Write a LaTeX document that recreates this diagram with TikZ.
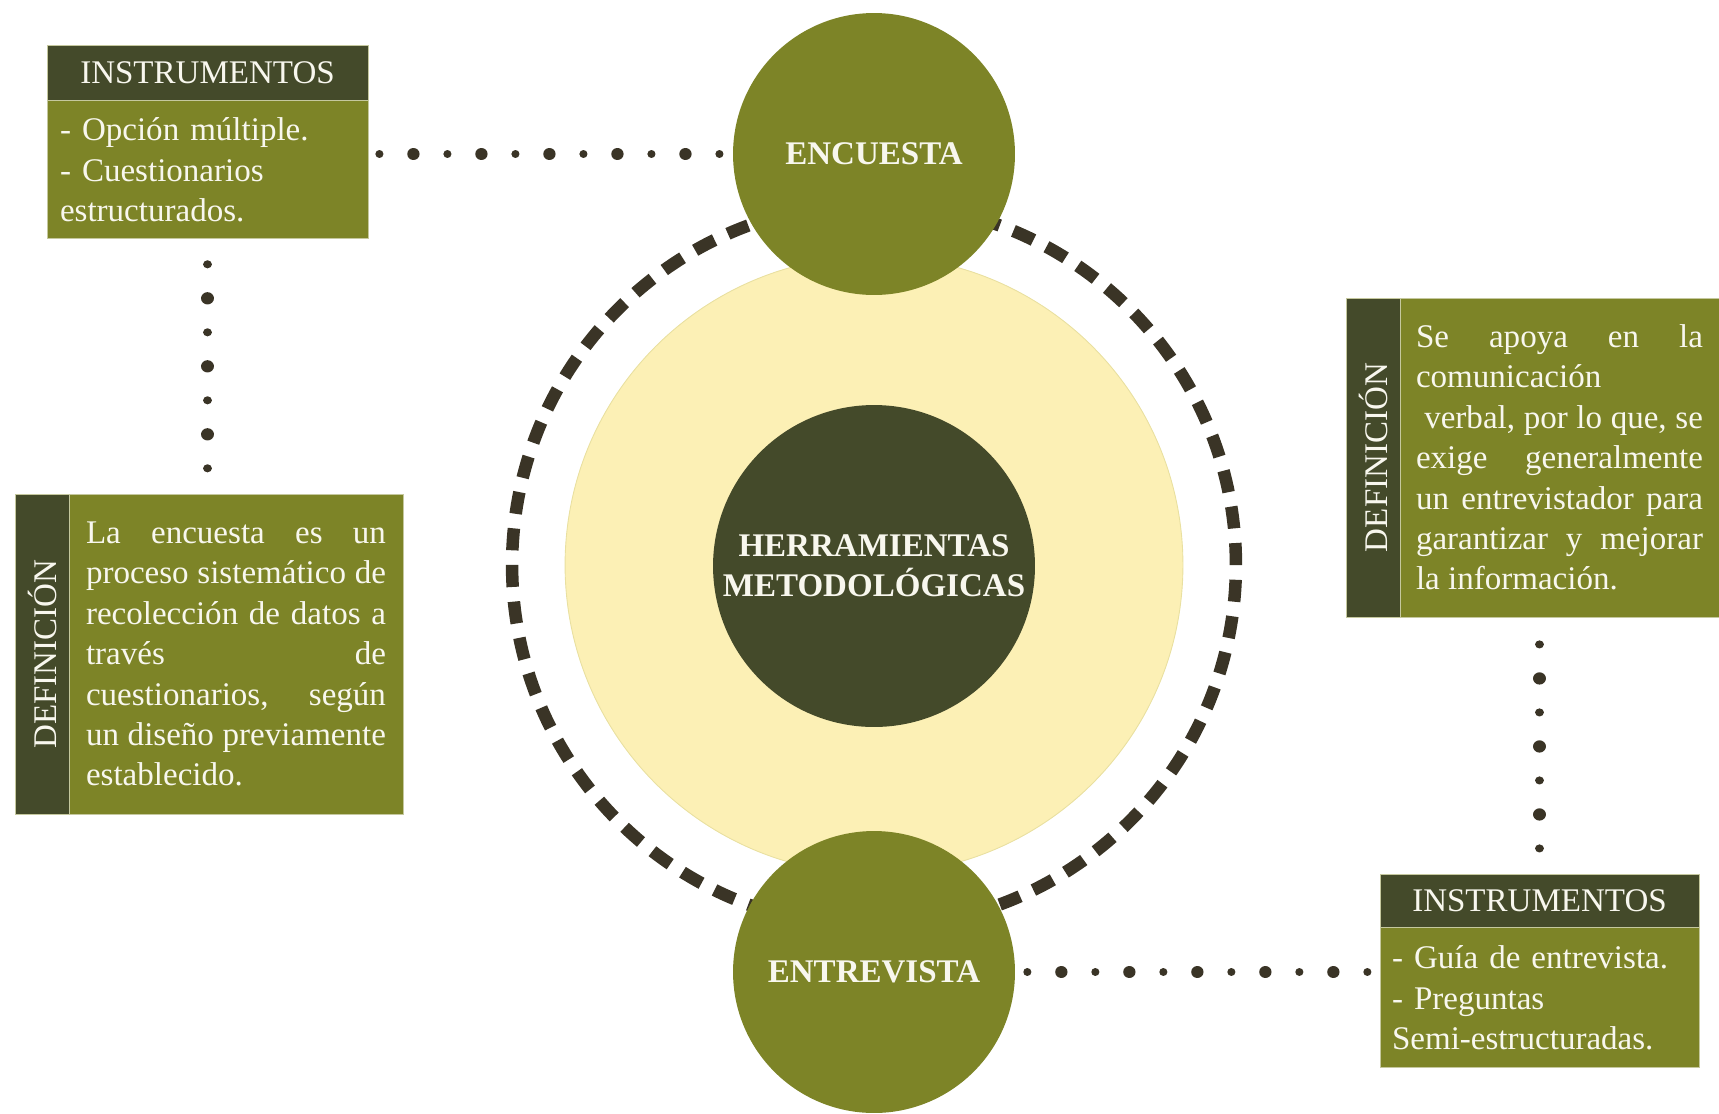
\documentclass[tikz,border=0pt]{standalone}
\usepackage{fontspec}
\setmainfont{Liberation Serif}
\usetikzlibrary{positioning}

\definecolor{oliva}{RGB}{125,132,39}
\definecolor{oscuro}{RGB}{68,74,42}
\definecolor{crema}{RGB}{252,240,181}
\definecolor{punto}{RGB}{58,52,38}
\definecolor{letra}{RGB}{248,247,238}

\newcommand{\tamano}{\fontsize{18.8}{23}\selectfont}

\tikzset{
    caja/.style={rectangle, fill=oliva, text=letra, inner sep=0pt, draw=white!55!oliva, line width=0.5pt},
    titulo/.style={caja, fill=oscuro},
    circulo/.style={circle, fill=oliva, text=letra, font=\tamano\bfseries, minimum size=5.64cm, inner sep=0pt, align=center},
    puntos/.style={draw=punto, line cap=round, line width=4.6pt, dash pattern=on 0.01pt off 1.36cm,
        postaction={draw=punto, line width=7pt, dash pattern=on 0.01pt off 1.36cm, dash phase=0.68cm}},
    anillo/.style={draw=punto, line width=0.25cm, dash pattern=on 0.44cm off 0.2938cm}
}

\begin{document}
\begin{tikzpicture}[x=0.02cm, y=-0.02cm, every node/.style={font=\tamano}]
            \useasboundingbox (0,0) rectangle (1719,1113);
            % Centro
            \node[circle, fill=crema, draw=crema!85!oliva, line width=0.5pt, minimum size=12.36cm] (fondo) at (874,565) {};
            \draw[anillo] (fondo.center) circle[radius=7.24cm];
            \node[circulo, fill=oscuro, minimum size=6.44cm] (herramientas) at (874,566) {HERRAMIENTAS\\METODOLÓGICAS};
            \node[circulo] (encuesta) at (874,154) {ENCUESTA};
            \node[circulo] (entrevista) at (874,972) {ENTREVISTA};
            % Encuesta
            \node[titulo, minimum width=6.42cm, minimum height=1.1cm] (tituloA) at (207.5,72.5) {INSTRUMENTOS};
            \node[caja, below=0pt of tituloA, minimum width=6.42cm, minimum height=2.76cm, text width=5.9cm, align=left]
            (cuerpoA) {- Opción múltiple.\\- Cuestionarios\\estructurados.};
            \node[titulo, rotate=90, minimum width=6.4cm, minimum height=1.08cm] (tiraA) at (42,654) {DEFINICIÓN};
            \node[caja, minimum width=6.68cm, minimum height=6.4cm, text width=6cm, align=justify]
            (textoA) at (236,654) {La encuesta es un\linebreak proceso sistemático de\linebreak recolección de datos a\linebreak través de\linebreak cuestionarios, según\linebreak un diseño previamente\linebreak establecido.};
            % Entrevista
            \node[titulo, rotate=90, minimum width=6.38cm, minimum height=1.08cm] (tiraB) at (1373,457.5) {DEFINICIÓN};
            \node[caja, minimum width=6.38cm, minimum height=6.38cm, text width=5.74cm, align=justify]
            (textoB) at (1559.5,457.5) {Se apoya en la\linebreak comunicación\\\hspace*{0.25em}verbal, por lo que, se\linebreak exige generalmente\linebreak un entrevistador para\linebreak garantizar y mejorar\linebreak la información.};
            \node[titulo, minimum width=6.38cm, minimum height=1.06cm] (tituloB) at (1539.5,900.5) {INSTRUMENTOS};
            \node[caja, below=0pt of tituloB, minimum width=6.38cm, minimum height=2.8cm, text width=5.9cm, align=left]
            (cuerpoB) {- Guía de entrevista.\\- Preguntas\\Semi-estructuradas.};
            % Puntos
            \draw[puntos, shorten <=0.22cm, shorten >=0.26cm] (cuerpoA.east |- encuesta) -- (encuesta.west);
            \draw[puntos, shorten <=0.5cm, shorten >=0.48cm] (cuerpoA.south) -- (cuerpoA.south |- textoA.north);
            \draw[puntos, shorten <=0.54cm, shorten >=0.48cm] (tituloB.north |- textoB.south) -- (tituloB.north);
            \draw[puntos, shorten <=0.24cm, shorten >=0.24cm] (entrevista.east) -- (entrevista -| cuerpoB.west);
\end{tikzpicture}
\end{document}
